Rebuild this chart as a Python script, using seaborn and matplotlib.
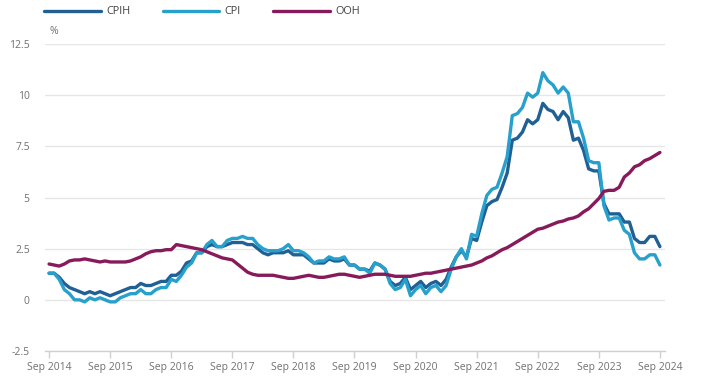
import numpy as np
import pandas as pd
import matplotlib
matplotlib.use("Agg")
import matplotlib.pyplot as plt
import seaborn as sns

# monthly 12-month rates, Sep 2014 .. Sep 2024 (121 months)
cpih = [1.3, 1.3, 1.1, 0.8,
        0.6, 0.5, 0.4, 0.3, 0.4, 0.3, 0.4, 0.3, 0.2, 0.3, 0.4, 0.5,
        0.6, 0.6, 0.8, 0.7, 0.7, 0.8, 0.9, 0.9, 1.2, 1.2, 1.4, 1.8,
        1.9, 2.3, 2.3, 2.6, 2.7, 2.6, 2.6, 2.7, 2.8, 2.8, 2.8, 2.7,
        2.7, 2.5, 2.3, 2.2, 2.3, 2.3, 2.3, 2.4, 2.2, 2.2, 2.2, 2.0,
        1.8, 1.8, 1.8, 2.0, 1.9, 1.9, 2.0, 1.7, 1.7, 1.5, 1.5, 1.4,
        1.8, 1.7, 1.5, 0.9, 0.7, 0.8, 1.1, 0.5, 0.7, 0.9, 0.6, 0.8,
        0.9, 0.7, 1.0, 1.6, 2.1, 2.4, 2.1, 3.0, 2.9, 3.8, 4.6, 4.8,
        4.9, 5.5, 6.2, 7.8, 7.9, 8.2, 8.8, 8.6, 8.8, 9.6, 9.3, 9.2,
        8.8, 9.2, 8.9, 7.8, 7.9, 7.3, 6.4, 6.3, 6.3, 4.7, 4.2, 4.2,
        4.2, 3.8, 3.8, 3.0, 2.8, 2.8, 3.1, 3.1, 2.6]

cpi = [1.3, 1.3, 1.0, 0.5,
       0.3, 0.0, 0.0, -0.1, 0.1, 0.0, 0.1, 0.0, -0.1, -0.1, 0.1, 0.2,
       0.3, 0.3, 0.5, 0.3, 0.3, 0.5, 0.6, 0.6, 1.0, 0.9, 1.2, 1.6,
       1.8, 2.3, 2.3, 2.7, 2.9, 2.6, 2.6, 2.9, 3.0, 3.0, 3.1, 3.0,
       3.0, 2.7, 2.5, 2.4, 2.4, 2.4, 2.5, 2.7, 2.4, 2.4, 2.3, 2.1,
       1.8, 1.9, 1.9, 2.1, 2.0, 2.0, 2.1, 1.7, 1.7, 1.5, 1.5, 1.3,
       1.8, 1.7, 1.5, 0.8, 0.5, 0.6, 1.0, 0.2, 0.5, 0.7, 0.3, 0.6,
       0.7, 0.4, 0.7, 1.5, 2.1, 2.5, 2.0, 3.2, 3.1, 4.2, 5.1, 5.4,
       5.5, 6.2, 7.0, 9.0, 9.1, 9.4, 10.1, 9.9, 10.1, 11.1, 10.7, 10.5,
       10.1, 10.4, 10.1, 8.7, 8.7, 7.9, 6.8, 6.7, 6.7, 4.6, 3.9, 4.0,
       4.0, 3.4, 3.2, 2.3, 2.0, 2.0, 2.2, 2.2, 1.7]

ooh = [1.75, 1.7, 1.65, 1.75,
       1.9, 1.95, 1.95, 2.0, 1.95, 1.9, 1.85, 1.9, 1.85, 1.85, 1.85, 1.85,
       1.9, 2.0, 2.1, 2.25, 2.35, 2.4, 2.4, 2.45, 2.45, 2.7, 2.65, 2.6,
       2.55, 2.5, 2.45, 2.35, 2.25, 2.15, 2.05, 2.0, 1.95, 1.75, 1.55, 1.35,
       1.25, 1.2, 1.2, 1.2, 1.2, 1.15, 1.1, 1.05, 1.05, 1.1, 1.15, 1.2,
       1.15, 1.1, 1.1, 1.15, 1.2, 1.25, 1.25, 1.2, 1.15, 1.1, 1.15, 1.2,
       1.25, 1.25, 1.25, 1.2, 1.15, 1.15, 1.15, 1.15, 1.2, 1.25, 1.3, 1.3,
       1.35, 1.4, 1.45, 1.5, 1.55, 1.6, 1.65, 1.7, 1.8, 1.9, 2.05, 2.15,
       2.3, 2.45, 2.55, 2.7, 2.85, 3.0, 3.15, 3.3, 3.45, 3.5, 3.6, 3.7,
       3.8, 3.85, 3.95, 4.0, 4.1, 4.3, 4.45, 4.7, 4.95, 5.3, 5.35, 5.35,
       5.5, 6.0, 6.2, 6.5, 6.6, 6.8, 6.9, 7.05, 7.2]

tick_labels = ['Sep 2014', 'Sep 2015', 'Sep 2016', 'Sep 2017', 'Sep 2018', 'Sep 2019',
               'Sep 2020', 'Sep 2021', 'Sep 2022', 'Sep 2023', 'Sep 2024']
series_names = ['CPIH', 'CPI', 'OOH']
colors = ['#206095', '#27A0CC', '#871A5B']

months = np.arange(len(cpi))
df = pd.DataFrame({'month': np.tile(months, 3),
                   'rate': cpih + cpi + ooh,
                   'series': np.repeat(series_names, len(cpi))})

sns.set_theme(style='white')
plt.rcParams['font.family'] = ['Open Sans', 'DejaVu Sans']

fig = plt.figure(figsize=(7.11, 3.80), dpi=100)
ax = fig.add_axes([45 / 711, 1 - 351 / 380, 620 / 711, 307 / 380])

sns.lineplot(data=df, x='month', y='rate', hue='series', hue_order=series_names,
             palette=colors, linewidth=2.4, ax=ax, legend=True)

ax.set_xlim(-0.8, 121)
ax.set_ylim(-2.5, 12.5)
ax.set_yticks([-2.5, 0, 2.5, 5, 7.5, 10, 12.5])
ax.set_yticklabels(['-2.5', '0', '2.5', '5', '7.5', '10', '12.5'])
ax.set_xticks(np.arange(0, 121, 12))
ax.set_xticklabels(tick_labels)
ax.set_xlabel('')
ax.set_ylabel('')

ax.grid(axis='y', color='#e6e6e6', linewidth=1)
ax.set_axisbelow(True)
for s in ['top', 'right', 'left']:
    ax.spines[s].set_visible(False)
ax.spines['bottom'].set_color('#d0d0d0')
ax.spines['bottom'].set_linewidth(1)
ax.tick_params(axis='x', colors='#d0d0d0', length=5, width=1, labelcolor='#707070',
               labelsize=7.5, pad=3, bottom=True)
ax.tick_params(axis='y', length=0, labelcolor='#707070', labelsize=7.5, pad=11)

ax.text(5 / 620, 1.0 + 7 / 307, '%', transform=ax.transAxes, fontsize=7.5,
        color='#707070', ha='left', va='bottom')

handles, labels = ax.get_legend_handles_labels()
ax.legend(handles, labels, loc='upper left', bbox_to_anchor=(-5 / 620, 1 + 42 / 307),
          ncol=3, frameon=False, fontsize=7.8, handlelength=5.2, handletextpad=0.5,
          columnspacing=3.0, labelcolor='#414042', borderaxespad=0)

fig.savefig('out.png', dpi=100)
